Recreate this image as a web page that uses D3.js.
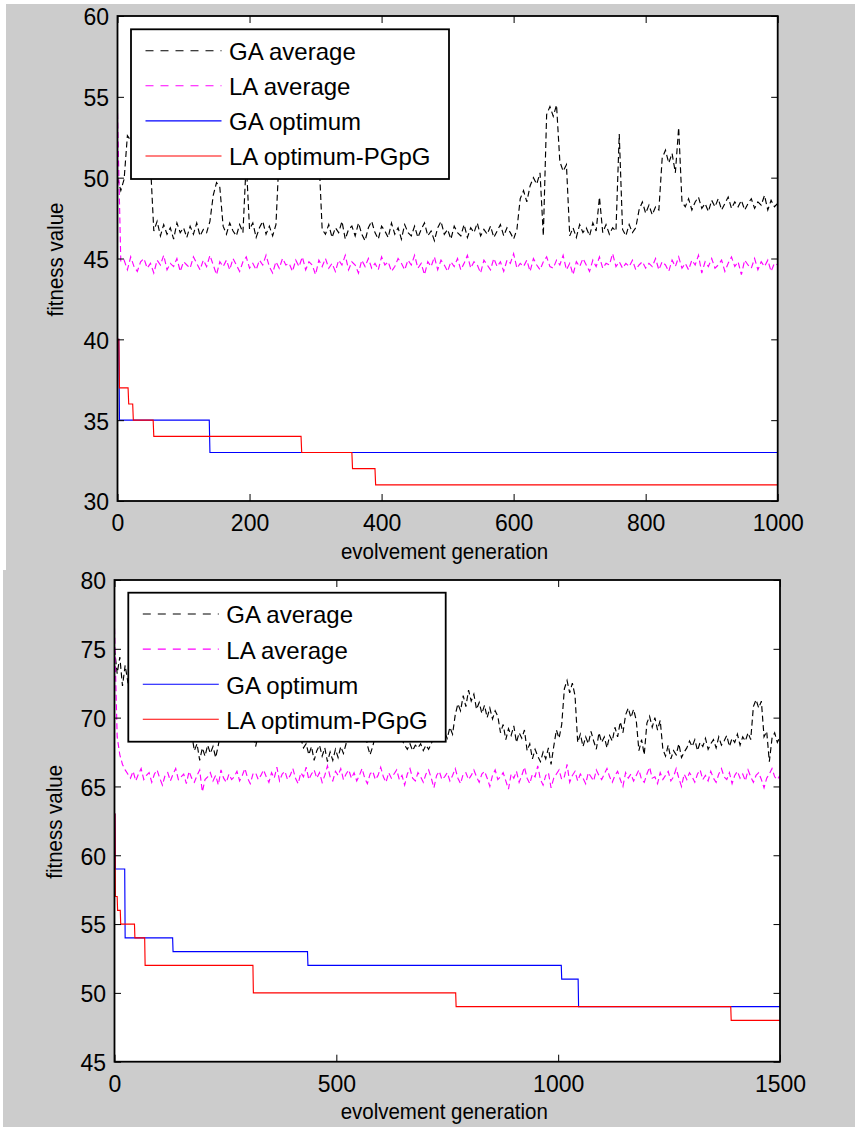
<!DOCTYPE html>
<html>
<head>
<meta charset="utf-8">
<script src="https://cdn.jsdelivr.net/npm/d3@7"></script>
<style>
  html, body { margin: 0; padding: 0; background: #ffffff; }
  svg { display: block; font-family: "Liberation Sans", Arial, Helvetica, sans-serif; }
</style>
</head>
<body>
<svg id="chart" width="855" height="1127"></svg>
<script>
// ---------------- data ----------------
const seriesNames = ["GA average", "LA average", "GA optimum", "LA optimum-PGpG"];

// upper run: 1000 generations, averages sampled every 5 generations
const topXTicks = [0, 200, 400, 600, 800, 1000];
const topYTicks = [30, 35, 40, 45, 50, 55, 60];
const topStep = 5;
const topGaAvg = [
  50.0, 49.2, 49.9, 52.6, 52.3, 51.8, 52.5, 51.6, 52.0, 51.4, 50.8,
  46.7, 47.3, 46.4, 47.1, 46.5, 46.9, 46.2, 47.2, 46.6, 46.9, 46.3, 47.0, 46.5, 47.2, 46.4, 46.8, 46.6, 47.3,
  48.9, 49.7, 49.4, 47.0,
  46.5, 47.2, 46.7, 46.4, 47.1, 46.6, 51.0, 46.8, 47.2, 46.3, 46.9, 47.3, 46.5, 47.0, 46.4, 47.1,
  51.5, 52.0, 51.3, 52.4, 51.8, 52.2, 51.5, 51.9, 52.3, 51.6, 52.0, 51.7, 51.4, 46.8,
  46.5, 47.1, 46.3, 46.9, 46.6, 47.3, 46.2, 46.8, 47.0, 46.4,
  47.2, 46.5, 46.1, 46.9, 47.3, 46.6, 46.2, 47.0, 46.7, 46.3,
  47.2, 46.5, 46.9, 46.2, 47.1, 46.6, 46.4, 47.0, 46.3, 46.8,
  47.2, 46.4, 46.7, 46.1, 46.9, 47.3, 46.5, 46.8, 46.2, 47.0,
  46.6, 46.4, 47.1, 46.3, 46.9, 46.6, 47.2, 46.4, 46.8, 46.5,
  47.0, 46.3, 46.7, 47.1, 46.4, 46.9, 46.6, 46.2, 46.8,
  48.7, 49.2, 48.5, 49.5, 50.0, 49.6, 50.3, 46.4, 53.9, 54.4, 53.8, 54.5, 51.0, 50.4, 50.8, 46.4,
  46.9, 46.3, 47.1, 46.6, 46.9, 46.4, 47.2, 46.7,
  48.8, 46.6, 47.1, 46.5, 46.9, 46.7, 52.7, 46.8, 46.4, 47.1, 46.6, 46.9,
  48.0, 48.5, 47.8, 48.3, 47.7, 48.2, 48.0,
  51.2, 51.7, 50.9, 51.5, 50.3, 53.1, 48.5,
  48.2, 48.7, 48.0, 48.5, 48.8, 48.1, 48.4, 47.9, 48.6, 48.2,
  48.7, 48.0, 48.4, 48.8, 48.1, 48.5, 48.2, 48.6, 48.0, 48.4,
  48.7, 48.1, 48.5, 48.3, 48.9, 48.0, 48.6, 48.2, 48.4
];
const topLaAvg = [
  54.0, 44.8,
  44.9, 44.3, 45.1, 44.5, 44.2, 44.8, 45.0, 44.4, 44.7, 44.1,
  44.9, 44.6, 45.2, 44.3, 44.7, 44.5, 45.0, 44.2, 44.8, 44.6,
  44.4, 45.1, 44.7, 44.3, 44.9, 44.5, 45.2, 44.6, 44.0, 44.8,
  44.5, 44.9, 44.3, 45.0, 44.6, 44.2, 44.8, 45.1, 44.4, 44.7,
  44.3, 44.9, 44.6, 45.2, 44.5, 44.1, 44.8, 44.4, 45.0, 44.6,
  44.7, 44.2, 44.9, 44.5, 45.1, 44.3, 44.8, 44.6, 44.0, 44.9,
  44.5, 45.0, 44.4, 44.7, 44.2, 44.9, 44.6, 45.2, 44.3, 44.8,
  44.6, 44.1, 44.9, 44.5, 45.0, 44.4, 44.7, 44.3, 45.1, 44.6,
  44.8, 44.2, 44.5, 45.0, 44.7, 44.3, 44.9, 44.6, 45.2, 44.4,
  44.7, 44.0, 44.8, 44.5, 45.1, 44.3, 44.9, 44.6, 44.2, 44.8,
  44.5, 45.0, 44.3, 44.7, 45.2, 44.4, 44.8, 44.6, 44.1, 44.9,
  44.6, 44.3, 45.0, 44.5, 44.8, 44.2, 44.9, 44.7, 45.3, 44.4,
  44.7, 44.5, 44.9, 44.2, 45.0, 44.6, 44.3, 44.8, 45.1, 44.5,
  44.4, 44.9, 44.6, 45.2, 44.3, 44.7, 44.0, 44.8, 44.5, 45.0,
  44.6, 44.2, 44.9, 44.5, 45.1, 44.4, 44.7, 44.6, 45.3, 44.5,
  44.8, 44.4, 44.7, 44.5, 44.9, 44.3, 44.6, 44.8, 44.4, 44.7,
  44.5, 45.0, 44.3, 44.8, 44.6, 44.2, 44.9, 44.5, 45.1, 44.4,
  44.7, 44.3, 44.9, 44.6, 45.2, 44.1, 44.8, 44.5, 45.0, 44.4,
  44.6, 44.9, 44.2, 44.7, 45.1, 44.5, 44.8, 44.0, 44.9, 44.6,
  44.4, 45.0, 44.3, 44.8, 44.5, 44.9, 44.2, 44.7, 44.6
];
// best-so-far curves: generation where each new level starts, and the level
const topGaOptGen = [0, 3, 140, 1000];
const topGaOptVal = [40, 35, 33, 33];
const topLaOptGen = [0, 3, 17, 24, 55, 279, 356, 391, 1000];
const topLaOptVal = [40, 37, 36, 35, 34, 33, 32, 31, 31];

// lower run: 1500 generations, averages sampled every 6 generations
const botXTicks = [0, 500, 1000, 1500];
const botYTicks = [45, 50, 55, 60, 65, 70, 75, 80];
const botStep = 6;
const botGaAvg = [
  75.0, 73.2, 74.4, 72.3, 73.8, 72.6,
  73.0, 72.1, 72.8, 71.6, 72.2, 71.3, 71.8, 70.9, 71.5, 70.6, 71.1, 70.3,
  70.8, 70.0, 70.5, 69.7, 70.2, 69.5, 70.0, 69.3, 69.8, 69.1, 69.6, 68.8,
  67.6, 68.1, 66.9, 67.8, 67.2, 68.0, 67.4, 67.9, 67.1, 68.0, 69.0,
  69.4, 68.9, 69.7, 69.2, 69.9, 69.0, 69.6, 68.8, 69.5, 69.1,
  68.6, 69.3, 67.9, 68.7, 69.4, 69.0, 69.8, 69.2, 69.6, 68.9,
  69.5, 69.1, 69.7, 69.0, 69.4, 68.8, 69.3, 68.7, 69.1, 68.5,
  67.8, 68.1, 67.3, 67.9, 66.9, 67.6, 68.0, 67.2, 67.8, 66.8,
  67.5, 66.9, 67.7, 67.1, 67.9, 67.4, 68.1, 68.9,
  69.4, 68.8, 69.6, 69.0, 68.6, 69.2, 68.0, 67.3, 67.9, 68.7,
  69.3, 68.9, 69.5, 69.0, 69.7, 69.1, 68.8, 69.4, 68.9, 68.4,
  68.0, 67.7, 68.1, 67.6, 68.0, 67.8, 68.1, 67.6, 68.0, 67.7, 68.1, 68.6, 69.1, 68.7, 69.4, 68.9,
  68.5, 69.3, 68.8, 70.2, 71.0, 70.5, 71.6, 70.8, 72.0, 71.2,
  71.7, 70.6, 71.1, 70.3, 70.9, 70.0, 70.7, 69.9, 70.5, 70.1,
  68.9, 69.5, 68.4, 69.2, 68.7, 69.4, 68.2, 68.9, 68.5, 69.1,
  67.6, 68.1, 67.0, 67.7, 67.2, 66.8, 67.5, 67.0, 67.8, 66.6,
  67.9, 69.1, 68.5, 69.5, 72.1, 72.7, 71.8, 72.5, 71.6, 68.2,
  68.8, 67.9, 68.6, 68.1, 69.0, 68.3, 67.7, 68.9, 68.2, 68.6,
  67.8, 68.7, 68.3, 69.3, 68.6, 69.7, 68.9, 70.2, 70.7, 70.0,
  70.6, 69.8, 67.6, 68.4, 67.3, 69.6, 70.1, 69.3, 70.0, 69.1,
  69.8, 67.7, 67.2, 68.0, 67.0, 67.6, 67.3, 68.1, 67.1, 67.5,
  67.8, 68.3, 67.9, 68.4, 67.6, 68.2, 67.9, 68.5, 67.7, 68.1,
  68.4, 67.8, 68.6, 68.0, 68.3, 68.7, 67.9, 68.5, 68.2, 68.8,
  68.0, 68.6, 68.3, 68.9, 68.4, 70.8, 71.3, 70.7, 71.2, 68.6,
  69.0, 66.8, 68.5, 68.9, 68.2, 68.6
];
const botLaAvg = [
  76.5, 68.6, 67.3, 66.6, 66.2, 65.9,
  65.6, 66.1, 65.4, 65.9, 66.3, 65.5, 65.8, 66.0, 65.3, 65.9,
  66.2, 65.6, 65.1, 65.8, 66.0, 65.4, 65.9, 66.3, 65.5, 65.7,
  65.9, 65.2, 66.1, 65.6, 65.3, 65.8, 66.2, 64.6, 65.5, 65.7,
  66.0, 65.4, 65.8, 65.1, 66.2, 65.6, 65.3, 65.9, 65.5, 65.7,
  66.1, 65.4, 65.8, 66.3, 65.6, 65.2, 65.9, 66.0, 65.5, 65.8,
  66.2, 65.7, 65.3, 66.0, 65.6, 66.4, 65.4, 65.9, 66.1, 65.5,
  65.8, 66.3, 65.6, 65.2, 66.0, 65.7, 66.4, 65.5, 65.9, 66.2,
  65.6, 66.0, 65.3, 65.8, 66.5, 65.7, 65.4, 66.1, 65.8, 66.3,
  65.5, 65.9, 66.2, 65.6, 66.0, 65.4, 65.8, 66.3, 65.6, 65.2,
  65.9, 66.1, 65.5, 65.8, 66.4, 65.7, 65.3, 66.0, 65.6, 65.9,
  66.2, 65.5, 65.8, 65.1, 65.9, 66.3, 65.6, 65.4, 66.0, 65.7,
  65.3, 65.9, 66.2, 65.6, 64.9, 65.8, 66.1, 65.5, 65.7, 66.0,
  65.4, 65.8, 66.3, 65.6, 65.2, 65.9, 66.0, 65.5, 65.8, 66.2,
  65.7, 65.3, 65.9, 66.1, 65.6, 65.0, 65.8, 66.2, 65.5, 65.7,
  66.0, 65.4, 64.8, 65.9, 65.6, 66.1, 65.3, 65.8, 66.4, 65.6,
  65.2, 65.9, 65.7, 66.5, 65.5, 65.1, 65.8, 66.0, 64.9, 65.6,
  65.9, 66.2, 65.5, 65.7, 66.6, 65.3, 65.8, 66.1, 65.4, 65.9,
  65.6, 65.2, 66.0, 65.7, 65.4, 66.2, 65.8, 65.5, 65.9, 66.3,
  65.7, 65.3, 65.8, 66.1, 65.5, 65.0, 66.0, 65.6, 65.9, 65.4,
  65.8, 66.2, 65.5, 65.3, 65.9, 66.4, 65.6, 65.7, 65.2, 66.0,
  65.5, 65.8, 66.1, 65.4, 65.7, 66.3, 65.6, 65.0, 65.9, 65.5,
  66.0, 65.7, 65.3, 65.9, 66.2, 65.5, 65.8, 65.4, 66.1, 65.6,
  65.3, 65.9, 66.3, 65.7, 65.5, 66.0, 65.2, 65.8, 66.1, 65.6,
  65.9, 65.4, 66.2, 65.7, 65.3, 65.8, 66.0, 65.5, 64.9, 65.6,
  65.9, 66.3, 65.7, 65.5, 65.8
];
const botGaOptGen = [0, 2, 24, 132, 436, 1008, 1046, 1500];
const botGaOptVal = [63, 59, 54, 53, 52, 51, 49, 49];
const botLaOptGen = [0, 2, 7, 14, 46, 69, 313, 770, 1390, 1500];
const botLaOptVal = [63, 57, 56, 55, 54, 52, 50, 49, 48, 48];

// ---------------- drawing ----------------
const colors = ["#000000", "#ff00ff", "#0000ff", "#ff0000"];
const legendDashes = ["8,7", "8,7", null, null];
const traceDashes = ["6,3.5", "6,3.5", null, null];
const FONT = '"Liberation Sans", Arial, Helvetica, sans-serif';

const svg = d3.select("#chart");

// grey figure backgrounds
svg.append("rect").attr("x", 6).attr("y", 4).attr("width", 849).attr("height", 566).attr("fill", "#cccccc");
svg.append("rect").attr("x", 3).attr("y", 570).attr("width", 852).attr("height", 557).attr("fill", "#cccccc");

function sampled(values, step) {
  return values.map((v, i) => [i * step, v]);
}
function stepped(gens, vals) {
  const pts = [[gens[0], vals[0]]];
  for (let i = 1; i < gens.length; i++) {
    if (vals[i] !== vals[i - 1]) pts.push([gens[i] - 1, vals[i - 1]]);
    pts.push([gens[i], vals[i]]);
  }
  return pts;
}

function panel(cfg, id) {
  const x = d3.scaleLinear().domain(cfg.xDomain).range([cfg.left, cfg.right]);
  const y = d3.scaleLinear().domain(cfg.yDomain).range([cfg.bottom, cfg.top]);
  const g = svg.append("g");

  g.append("rect")
    .attr("x", cfg.left).attr("y", cfg.top)
    .attr("width", cfg.right - cfg.left).attr("height", cfg.bottom - cfg.top)
    .attr("fill", "#ffffff");

  g.append("clipPath").attr("id", "clip" + id)
    .append("rect")
    .attr("x", cfg.left).attr("y", cfg.top)
    .attr("width", cfg.right - cfg.left).attr("height", cfg.bottom - cfg.top);

  const line = d3.line().x(d => x(d[0])).y(d => y(d[1]));
  const plot = g.append("g").attr("clip-path", `url(#clip${id})`);
  cfg.series.forEach((pts, i) => {
    plot.append("path")
      .attr("d", line(pts))
      .attr("fill", "none")
      .attr("stroke", colors[i])
      .attr("stroke-width", 1.15)
      .attr("stroke-dasharray", traceDashes[i]);
  });

  // ticks on all four sides, pointing inwards
  const tickFs = 23, tickSy = 1.08;
  const axB = g.append("g").attr("transform", `translate(0,${cfg.bottom})`)
    .call(d3.axisBottom(x).tickValues(cfg.xTicks).tickSize(-7).tickSizeOuter(0).tickFormat(d3.format("d")));
  axB.selectAll(".tick text")
    .attr("y", null).attr("dy", null)
    .attr("transform", `translate(0,30) scale(1,${tickSy})`);
  const axT = g.append("g").attr("transform", `translate(0,${cfg.top})`)
    .call(d3.axisTop(x).tickValues(cfg.xTicks).tickSize(-7).tickSizeOuter(0).tickFormat(""));
  const axL = g.append("g").attr("transform", `translate(${cfg.left},0)`)
    .call(d3.axisLeft(y).tickValues(cfg.yTicks).tickSize(-6.5).tickSizeOuter(0).tickFormat(d3.format("d")));
  axL.selectAll(".tick text")
    .attr("x", null).attr("dy", null)
    .attr("transform", `translate(-8.5,${0.716 * tickFs * tickSy / 2}) scale(1,${tickSy})`);
  const axR = g.append("g").attr("transform", `translate(${cfg.right},0)`)
    .call(d3.axisRight(y).tickValues(cfg.yTicks).tickSize(-6.5).tickSizeOuter(0).tickFormat(""));

  [axB, axT, axL, axR].forEach(a => {
    a.select(".domain").remove();
    a.attr("font-size", tickFs).attr("font-family", FONT);
    a.selectAll(".tick line").attr("stroke", "#000").attr("stroke-width", 1);
    a.selectAll(".tick text").attr("fill", "#000");
  });

  // axes box
  g.append("rect")
    .attr("x", cfg.left).attr("y", cfg.top)
    .attr("width", cfg.right - cfg.left).attr("height", cfg.bottom - cfg.top)
    .attr("fill", "none").attr("stroke", "#000").attr("stroke-width", 1.8);

  // axis titles
  const cx = (cfg.left + cfg.right) / 2 - 3;
  const cy = (cfg.top + cfg.bottom) / 2 + 1;
  g.append("text")
    .attr("transform", `translate(${cx},${cfg.bottom + 57.5}) scale(1,1.1)`)
    .attr("text-anchor", "middle").attr("font-size", 20.5).attr("font-family", FONT)
    .attr("fill", "#000").text("evolvement generation");
  g.append("text")
    .attr("transform", `translate(${cfg.ylabelX},${cy}) rotate(-90) scale(1,1.1)`)
    .attr("text-anchor", "middle").attr("font-size", 20.5).attr("font-family", FONT)
    .attr("fill", "#000").text("fitness value");

  // legend
  const lg = g.append("g");
  lg.append("rect")
    .attr("x", cfg.legend.x).attr("y", cfg.legend.y)
    .attr("width", cfg.legend.w).attr("height", cfg.legend.h)
    .attr("fill", "#ffffff").attr("stroke", "#000").attr("stroke-width", 1.8);
  seriesNames.forEach((name, i) => {
    const ry = cfg.legend.y + cfg.legend.row0 + i * 35.1;
    lg.append("line")
      .attr("x1", cfg.legend.x + 14.5).attr("x2", cfg.legend.x + 90.5)
      .attr("y1", ry).attr("y2", ry)
      .attr("stroke", colors[i]).attr("stroke-width", 1.1)
      .attr("stroke-dasharray", legendDashes[i]);
    lg.append("text")
      .attr("x", cfg.legend.x + 98).attr("y", ry + 9.4)
      .attr("font-size", 24).attr("font-family", FONT).attr("fill", "#000")
      .text(name);
  });
}

panel({
  left: 117.5, right: 777.7, top: 16, bottom: 501,
  xDomain: [0, 1000], yDomain: [30, 60],
  xTicks: topXTicks, yTicks: topYTicks, ylabelX: 63,
  legend: { x: 131, y: 29.3, w: 318, h: 149.7, row0: 21.4 },
  series: [
    sampled(topGaAvg, topStep),
    sampled(topLaAvg, topStep),
    stepped(topGaOptGen, topGaOptVal),
    stepped(topLaOptGen, topLaOptVal)
  ]
}, "A");

panel({
  left: 114.5, right: 780, top: 580, bottom: 1061.7,
  xDomain: [0, 1500], yDomain: [45, 80],
  xTicks: botXTicks, yTicks: botYTicks, ylabelX: 61.5,
  legend: { x: 128.3, y: 592.7, w: 317.4, h: 149, row0: 21.3 },
  series: [
    sampled(botGaAvg, botStep),
    sampled(botLaAvg, botStep),
    stepped(botGaOptGen, botGaOptVal),
    stepped(botLaOptGen, botLaOptVal)
  ]
}, "B");
</script>
</body>
</html>
